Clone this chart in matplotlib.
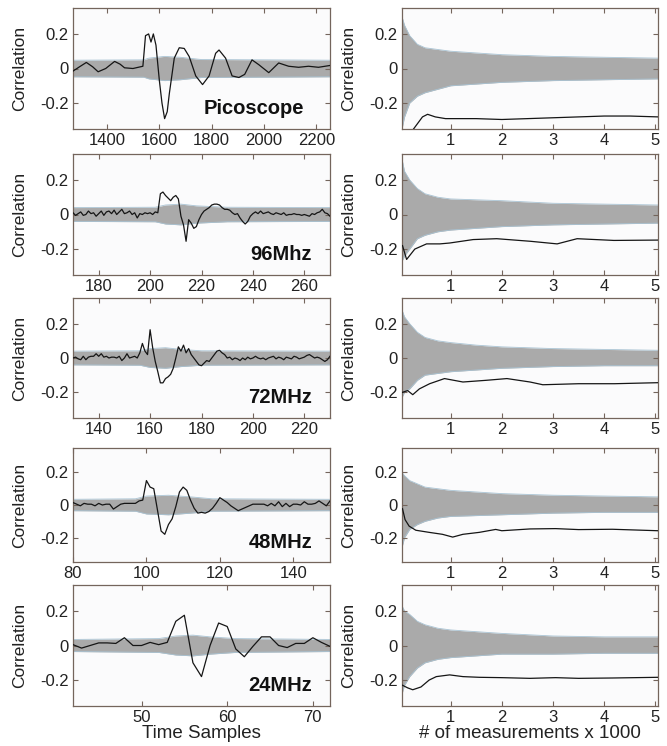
import matplotlib
matplotlib.use("Agg")
import matplotlib.pyplot as plt
import numpy as np

plt.rcParams['font.family'] = ['Liberation Sans', 'DejaVu Sans']

# ---------------- data ----------------
labels = ["Picoscope", "96Mhz", "72MHz", "48MHz", "24MHz"]
xlims_left = [(1270, 2252), (170, 270), (130, 230), (80, 150), (42, 72)]
xticks_left = [[1400, 1600, 1800, 2000, 2200], [180, 200, 220, 240, 260],
               [140, 160, 180, 200, 220], [80, 100, 120, 140], [50, 60, 70]]

# Picoscope correct-key trace (time sample, correlation)
pico_x = [1270, 1295, 1321, 1345, 1366, 1395, 1429, 1450, 1467, 1499, 1537, 1542, 1547,
          1559, 1568, 1577, 1587, 1600, 1610, 1620, 1630, 1638, 1657, 1676, 1695, 1714,
          1739, 1765, 1790, 1815, 1828, 1853, 1878, 1904, 1926, 1954, 1980, 2018, 2056,
          2094, 2132, 2170, 2208, 2250]
pico_y = [-0.015, 0.01, 0.035, 0.01, -0.019, 0.0, 0.041, 0.025, 0.004, 0.0, 0.013, 0.1, 0.19,
          0.2, 0.153, 0.2, 0.135, -0.07, -0.2, -0.29, -0.25, -0.146, 0.06, 0.12, 0.116, 0.069,
          -0.043, -0.093, -0.043, 0.088, 0.107, 0.06, -0.043, -0.052, -0.034, 0.05, 0.022,
          -0.024, 0.032, 0.013, 0.007, 0.013, 0.007, 0.017]

mhz96_x = list(range(170, 271))
mhz96_y = [0.01, -0.005, 0.005, 0.015, -0.005, 0.0, 0.02, 0.005, 0.01, -0.01,
           0.005, 0.02, -0.005, 0.015, 0.02, 0.005, 0.025, 0.0, 0.015, 0.03,
           0.005, 0.01, 0.02, 0.0, 0.01, -0.02, 0.005, 0.0, 0.01, 0.005,
           0.01, 0.0, 0.015, 0.01, 0.12, 0.13, 0.11, 0.095, 0.08, 0.1,
           0.11, 0.09, -0.01, -0.06, -0.155, -0.03, -0.05, -0.08, -0.07, -0.03,
           0.0, 0.02, 0.03, 0.04, 0.055, 0.06, 0.06, 0.055, 0.04, 0.03,
           0.03, 0.025, 0.01, 0.0, 0.005, -0.02, -0.04, -0.055, -0.04, -0.01,
           0.005, 0.015, 0.005, 0.02, 0.005, 0.01, 0.015, 0.005, 0.0, 0.01,
           0.005, 0.0, 0.01, -0.005, 0.0, 0.0, 0.005, 0.0, 0.0, -0.005,
           0.0, -0.005, -0.01, 0.005, 0.0, 0.01, 0.015, 0.03, 0.01, 0.005,
           -0.01]

mhz72_x = list(range(130, 231))
mhz72_y = [0.0, 0.005, -0.005, -0.01, 0.01, -0.01, 0.005, 0.01, 0.01, 0.025,
           0.01, 0.025, 0.005, 0.01, 0.0, 0.005, 0.005, 0.0, 0.01, -0.015,
           0.0, 0.025, 0.0, 0.005, 0.01, 0.0, 0.03, 0.085, 0.04, 0.02,
           0.165, 0.06, -0.02, -0.08, -0.145, -0.145, -0.12, -0.11, -0.095, -0.06,
           0.0, 0.065, 0.04, 0.075, 0.03, 0.055, 0.02, 0.0, -0.02, -0.04,
           -0.045, -0.03, -0.015, -0.02, 0.0, 0.02, 0.04, 0.045, 0.03, 0.02,
           0.0, 0.005, -0.01, 0.0, -0.005, -0.015, 0.0, -0.01, 0.005, -0.005,
           0.0, 0.01, 0.0, -0.005, 0.0, -0.01, 0.0, 0.005, 0.01, -0.005,
           0.005, 0.0, -0.01, 0.005, 0.0, -0.005, 0.01, 0.005, -0.005, 0.0,
           0.005, 0.015, 0.02, 0.01, 0.0, 0.005, 0.0, -0.01, -0.02, -0.01,
           0.01]

mhz48_x = list(range(80, 151))
mhz48_y = [0.015, 0.005, -0.005, 0.01, 0.005, 0.005, -0.005, 0.01, 0.0, 0.005,
           0.005, -0.025, -0.01, 0.005, 0.01, 0.01, 0.01, 0.01, 0.025, 0.03,
           0.15, 0.11, 0.1, -0.03, -0.16, -0.18, -0.12, -0.085, -0.01, 0.08,
           0.11, 0.09, 0.03, -0.02, -0.05, -0.045, -0.05, -0.04, -0.02, 0.01,
           0.045, 0.03, 0.015, -0.005, -0.02, -0.035, -0.025, -0.015, -0.005, 0.005,
           0.005, 0.005, 0.005, -0.005, 0.01, -0.005, 0.02, -0.01, 0.01, -0.01,
           0.005, 0.005, 0.0, 0.02, 0.005, 0.005, 0.01, 0.025, 0.01, -0.005,
           0.025]

mhz24_x = list(range(42, 73))
mhz24_y = [0.005, -0.015, 0.0, 0.015, 0.015, 0.012, 0.045, 0.0, 0.0, 0.018,
           0.005, 0.018, 0.14, 0.175, -0.1, -0.18, 0.0, 0.13, 0.11, -0.02,
           -0.065, -0.005, 0.05, 0.05, 0.0, -0.012, 0.012, 0.012, 0.045, 0.018,
           -0.005]

left_x = [pico_x, mhz96_x, mhz72_x, mhz48_x, mhz24_x]
left_y = [pico_y, mhz96_y, mhz72_y, mhz48_y, mhz24_y]

# wrong-key envelopes (left panels)
band_left_x = [[1270, 1540, 1560, 1620, 1680, 1760, 2252],
               [170, 202, 206, 212, 218, 230, 270],
               [130, 156, 160, 166, 172, 180, 230],
               [80, 97, 100, 106, 112, 118, 150],
               [42, 52, 54, 56, 58, 61, 72]]
band_left_up = [[0.048, 0.05, 0.06, 0.07, 0.065, 0.052, 0.048],
                [0.04, 0.042, 0.055, 0.06, 0.05, 0.042, 0.04],
                [0.04, 0.042, 0.055, 0.06, 0.05, 0.042, 0.04],
                [0.035, 0.038, 0.055, 0.06, 0.05, 0.038, 0.035],
                [0.035, 0.04, 0.055, 0.06, 0.05, 0.04, 0.035]]
band_left_lo = [[-0.048, -0.05, -0.06, -0.07, -0.065, -0.052, -0.048],
                [-0.04, -0.042, -0.055, -0.06, -0.05, -0.042, -0.04],
                [-0.04, -0.042, -0.055, -0.06, -0.05, -0.042, -0.04],
                [-0.035, -0.038, -0.055, -0.06, -0.05, -0.038, -0.035],
                [-0.035, -0.04, -0.055, -0.06, -0.05, -0.04, -0.035]]

# right panels: correlation vs number of measurements (x1000)
right_x = [[0.05, 0.2, 0.3, 0.45, 0.55, 0.7, 0.9, 1.2, 1.5, 2.0, 2.5, 3.0, 3.5, 4.0, 4.5, 5.05],
           [0.06, 0.14, 0.3, 0.53, 0.79, 0.98, 1.44, 1.9, 2.56, 3.08, 3.47, 4.19, 5.05],
           [0.06, 0.16, 0.26, 0.39, 0.59, 0.88, 1.24, 1.7, 2.1, 2.55, 2.8, 3.5, 4.2, 5.05],
           [0.06, 0.11, 0.19, 0.32, 0.58, 0.84, 1.04, 1.24, 1.56, 1.88, 2.0, 2.55, 3.05, 3.5, 4.16, 5.05],
           [0.06, 0.16, 0.26, 0.42, 0.58, 0.72, 0.98, 1.24, 1.56, 2.0, 2.55, 3.05, 3.5, 4.16, 5.05]]
right_y = [[-0.42, -0.38, -0.34, -0.28, -0.265, -0.28, -0.29, -0.29, -0.29, -0.295, -0.29, -0.285, -0.28, -0.275, -0.275, -0.28],
           [-0.18, -0.26, -0.2, -0.17, -0.17, -0.165, -0.145, -0.14, -0.155, -0.17, -0.14, -0.15, -0.148],
           [-0.2, -0.19, -0.214, -0.18, -0.15, -0.12, -0.14, -0.13, -0.12, -0.14, -0.156, -0.15, -0.15, -0.144],
           [-0.023, -0.09, -0.13, -0.155, -0.168, -0.18, -0.197, -0.18, -0.168, -0.15, -0.158, -0.147, -0.145, -0.151, -0.149, -0.158],
           [-0.23, -0.245, -0.256, -0.24, -0.2, -0.18, -0.17, -0.18, -0.184, -0.186, -0.19, -0.186, -0.19, -0.188, -0.184]]

band_right_x = [0.05, 0.1, 0.2, 0.35, 0.5, 0.75, 1.0, 1.5, 2.0, 3.0, 4.0, 5.05]
band_right_up = [[0.3, 0.25, 0.19, 0.14, 0.12, 0.11, 0.1, 0.09, 0.08, 0.07, 0.065, 0.06],
                 [0.32, 0.25, 0.2, 0.15, 0.12, 0.1, 0.09, 0.085, 0.08, 0.065, 0.06, 0.055],
                 [0.28, 0.24, 0.2, 0.15, 0.12, 0.1, 0.09, 0.075, 0.065, 0.055, 0.05, 0.045],
                 [0.2, 0.18, 0.15, 0.13, 0.11, 0.1, 0.09, 0.08, 0.07, 0.06, 0.055, 0.05],
                 [0.23, 0.2, 0.18, 0.14, 0.12, 0.1, 0.09, 0.08, 0.07, 0.055, 0.05, 0.05]]
band_right_lo = [[-0.35, -0.28, -0.2, -0.16, -0.14, -0.12, -0.1, -0.09, -0.08, -0.07, -0.065, -0.06],
                 [-0.27, -0.24, -0.2, -0.14, -0.12, -0.1, -0.09, -0.08, -0.07, -0.06, -0.055, -0.05],
                 [-0.23, -0.2, -0.18, -0.13, -0.1, -0.09, -0.08, -0.07, -0.06, -0.05, -0.045, -0.045],
                 [-0.26, -0.2, -0.15, -0.12, -0.1, -0.08, -0.07, -0.065, -0.06, -0.05, -0.045, -0.045],
                 [-0.28, -0.23, -0.18, -0.13, -0.1, -0.08, -0.07, -0.06, -0.05, -0.05, -0.045, -0.045]]

yticks = [-0.2, 0, 0.2]
ytick_labels = ["-0.2", "0", "0.2"]
right_xticks = [1, 2, 3, 4, 5]

# ---------------- layout ----------------
W, H = 667, 746
fig = plt.figure(figsize=(W / 100, H / 100), dpi=100)
rows_px = [(8, 129), (154, 275), (298, 418), (448, 562), (585, 706)]
left_px = (73, 330)
right_px = (402, 658)

spine_col = '#74655c'
band_col = '#aaaaaa'
edge_col = '#a9c3d3'
face_col = '#fbfbfc'


def style(ax):
    ax.set_facecolor(face_col)
    for s in ax.spines.values():
        s.set_color(spine_col)
        s.set_linewidth(0.9)
    ax.tick_params(direction='in', length=3.5, width=0.8, color=spine_col,
                   labelsize=12, labelcolor='#222222', top=True, right=True, pad=3)
    ax.set_ylim(-0.35, 0.35)
    ax.set_yticks(yticks)
    ax.set_yticklabels(ytick_labels)
    ax.set_ylabel("Correlation", fontsize=12.5, color='#222222')


for i, (top, bot) in enumerate(rows_px):
    b = 1 - bot / H
    h = (bot - top) / H
    # left
    axl = fig.add_axes([left_px[0] / W, b, (left_px[1] - left_px[0]) / W, h])
    style(axl)
    axl.fill_between(band_left_x[i], band_left_lo[i], band_left_up[i], color=band_col, lw=0, zorder=1)
    axl.plot(band_left_x[i], band_left_up[i], color=edge_col, lw=0.6, zorder=1.5)
    axl.plot(band_left_x[i], band_left_lo[i], color=edge_col, lw=0.6, zorder=1.5)
    axl.plot(left_x[i], left_y[i], color='#151515', lw=0.9, zorder=3)
    axl.set_xlim(*xlims_left[i])
    axl.set_xticks(xticks_left[i])
    axl.text(0.9 if i == 0 else 0.93, 0.17, labels[i], transform=axl.transAxes, ha='right',
             va='center', fontsize=14.5, fontweight='bold', color='#111111')
    axl.yaxis.set_label_coords(-0.18, 0.5)
    # right
    axr = fig.add_axes([right_px[0] / W, b, (right_px[1] - right_px[0]) / W, h])
    style(axr)
    axr.fill_between(band_right_x, band_right_lo[i], band_right_up[i], color=band_col, lw=0, zorder=1)
    axr.plot(band_right_x, band_right_up[i], color=edge_col, lw=0.6, zorder=1.5)
    axr.plot(band_right_x, band_right_lo[i], color=edge_col, lw=0.6, zorder=1.5)
    axr.plot(right_x[i], right_y[i], color='#151515', lw=0.9, zorder=3)
    axr.set_xlim(0.05, 5.05)
    axr.set_xticks(right_xticks)
    axr.yaxis.set_label_coords(-0.18, 0.5)
    if i == 4:
        axl.set_xlabel("Time Samples", fontsize=13.5, color='#222222', labelpad=0)
        axr.set_xlabel("# of measurements x 1000", fontsize=13.5, color='#222222', labelpad=0)

fig.savefig("out.png", dpi=100, facecolor='white')
